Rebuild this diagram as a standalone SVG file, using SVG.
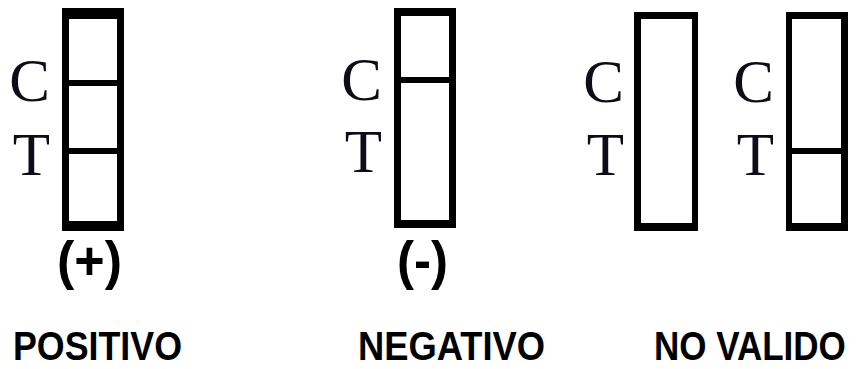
<svg xmlns="http://www.w3.org/2000/svg" width="859" height="369" viewBox="0 0 859 369">
  <style>
    .frame { fill: #000; }
    .window { fill: #fff; }
    .band { fill: #000; }
    .mark { font-family: "Liberation Serif", "Times New Roman", serif; font-size: 61px; fill: #0d0d1a; text-anchor: end; }
    .sign { font-family: "Liberation Sans", Arial, sans-serif; font-weight: bold; font-size: 54px; fill: #000; }
    .caption { font-family: "Liberation Sans", Arial, sans-serif; font-weight: bold; font-size: 40px; fill: #000; }
  </style>
  <rect width="859" height="369" fill="#fff"/>

  <!-- Positive: control and test bands -->
  <g id="strip-positive">
    <rect class="frame" x="62" y="8" width="62" height="223"/>
    <rect class="window" x="69" y="19" width="48" height="202"/>
    <rect class="band" x="69" y="80" width="48" height="6"/>
    <rect class="band" x="69" y="148" width="48" height="6"/>
    <text class="mark" x="50" y="101">C</text>
    <text class="mark" x="50" y="175">T</text>
    <text class="sign" x="57" y="279" textLength="65" lengthAdjust="spacingAndGlyphs">(+)</text>
    <text class="caption" x="13" y="360" textLength="169" lengthAdjust="spacingAndGlyphs">POSITIVO</text>
  </g>

  <!-- Negative: control band only -->
  <g id="strip-negative">
    <rect class="frame" x="394" y="8" width="62" height="220"/>
    <rect class="window" x="401" y="16" width="48" height="204"/>
    <rect class="band" x="401" y="77" width="48" height="6"/>
    <text class="mark" x="382" y="100">C</text>
    <text class="mark" x="382" y="172">T</text>
    <text class="sign" x="397" y="279" textLength="51" lengthAdjust="spacingAndGlyphs">(-)</text>
    <text class="caption" x="358" y="360" textLength="187" lengthAdjust="spacingAndGlyphs">NEGATIVO</text>
  </g>

  <!-- Invalid: no bands -->
  <g id="strip-invalid-empty">
    <rect class="frame" x="634" y="12" width="64" height="219"/>
    <rect class="window" x="641" y="19" width="51" height="204"/>
    <text class="mark" x="624" y="102">C</text>
    <text class="mark" x="624" y="175">T</text>
  </g>

  <!-- Invalid: test band only -->
  <g id="strip-invalid-test">
    <rect class="frame" x="786" y="12" width="62" height="219"/>
    <rect class="window" x="792" y="19" width="49" height="204"/>
    <rect class="band" x="792" y="148" width="49" height="6"/>
    <text class="mark" x="774" y="102">C</text>
    <text class="mark" x="774" y="175">T</text>
  </g>

  <!-- Shared caption under both invalid strips, stretched vertically to match the other captions -->
  <g id="caption-invalid">
    <text class="caption" style="font-size:35px" transform="translate(654,360) scale(1,1.14)" x="0" y="0">NO VALIDO</text>
  </g>

  <g id="connectors"/>
</svg>
